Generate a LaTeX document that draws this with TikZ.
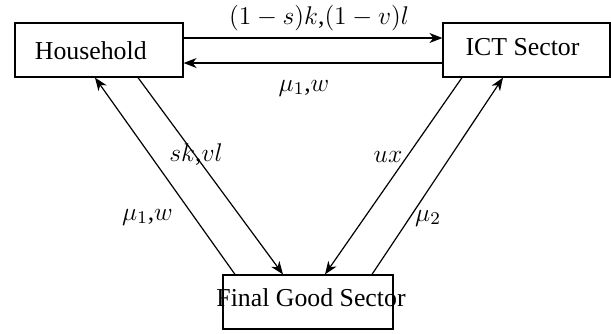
\RequirePackage{fix-cm}
\documentclass[tikz,border=0pt]{standalone}
\usepackage{fontspec}
\setmainfont{Liberation Serif}
\usetikzlibrary{arrows.meta}
\begin{document}
\begin{tikzpicture}[x=0.5pt,y=-0.5pt, line width=0.6pt,
 box/.style={draw, rectangle, minimum width=#1, minimum height=27pt, inner sep=0pt},
 txt/.style={font=\fontsize{12.9}{15}\selectfont, inner sep=0pt, anchor=base},
 lab/.style={font=\fontsize{12.8}{15}\selectfont, inner sep=0pt},
 arr/.style={-{Stealth[length=6.5pt,width=5pt,inset=2pt]}}]
\useasboundingbox (0,0) rectangle (611,333);
\node[box=84pt] (hh) at (99,50) {};
\node[box=83.5pt] (ict) at (526.5,50) {};
\node[box=85pt] (fg) at (308,302) {};
\node[txt] (hht) at (90.8,59.5) {Household};
\node[txt] (ictt) at (522.5,55.5) {ICT Sector};
\node[txt] (fgt) at (311,306.5) {Final Good Sector};
\draw[arr] ([yshift=6pt]hh.east) -- ([yshift=6pt]ict.west);
\draw[arr] ([yshift=-6.5pt]ict.west) -- ([yshift=-6.5pt]hh.east);
\draw[arr] ([xshift=-36.5pt]fg.north) -- ([xshift=-2pt]hh.south);
\draw[arr] ([xshift=19.5pt]hh.south) -- ([xshift=-12.5pt]fg.north);
\draw[arr] ([xshift=-32.25pt]ict.south) -- ([xshift=8.5pt]fg.north);
\draw[arr] ([xshift=32pt]fg.north) -- ([xshift=-11.75pt]ict.south);
\node[lab, anchor=base] (l1) at (319,24.5) {$(1-s)k$,$(1-v)l$};
\node[lab] (l2) at (304,88) {$\mu_1$,$w$};
\node[lab] (l3) at (196,155) {$sk$,$vl$};
\node[lab] (l4) at (147.5,217) {$\mu_1$,$w$};
\node[lab] (l5) at (388,157) {$ux$};
\node[lab] (l6) at (428,218) {$\mu_2$};
\end{tikzpicture}
\end{document}
